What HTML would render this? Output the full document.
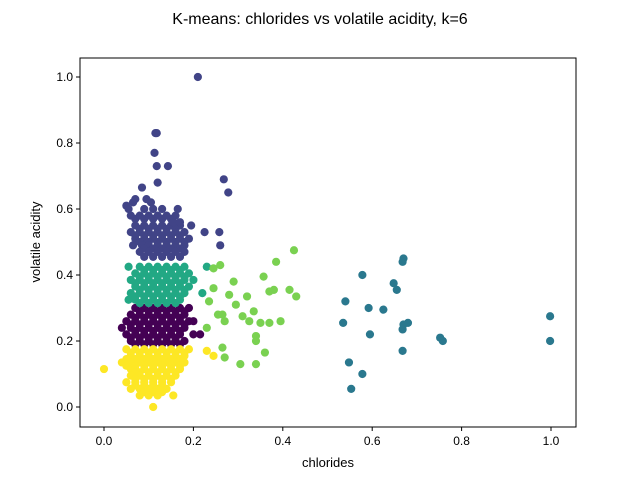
<!DOCTYPE html>
<html><head><meta charset="utf-8"><style>
body{margin:0;background:#fff;font-family:"Liberation Sans","DejaVu Sans",sans-serif}
</style></head><body>
<svg id="chart" width="640" height="480" xmlns="http://www.w3.org/2000/svg" style="display:block">
<rect width="640" height="480" fill="#fff"/>
<text x="320" y="24" text-anchor="middle" font-size="16" fill="#000">K-means: chlorides vs volatile acidity, k=6</text>
<g id="marks"></g>
<g id="axes"></g>
<text x="328" y="467" text-anchor="middle" font-size="13">chlorides</text>
<text transform="translate(40,242) rotate(-90)" text-anchor="middle" font-size="13">volatile acidity</text>
</svg>
<script>
const xTicks=[0,0.2,0.4,0.6,0.8,1.0];
const xTickLabels=["0.0","0.2","0.4","0.6","0.8","1.0"];
const yTicks=[0,0.2,0.4,0.6,0.8,1.0];
const yTickLabels=["0.0","0.2","0.4","0.6","0.8","1.0"];
const clusterColors=["#fde725","#440154","#22a884","#414487","#7ad151","#2a788e"];
const yellowRows=[[0.175,[0.05,0.07,0.09,0.11,0.13,0.15,0.17,0.19]],[0.165,[0.06,0.08,0.1,0.12,0.14,0.16,0.18]],[0.155,[0.06,0.08,0.1,0.12,0.14,0.16,0.18,0.245]],[0.145,[0.05,0.07,0.09,0.11,0.13,0.15,0.17]],[0.135,[0.04,0.06,0.08,0.1,0.12,0.14,0.16,0.18]],[0.125,[0.05,0.07,0.09,0.11,0.13,0.15,0.17]],[0.115,[0.0,0.06,0.07,0.09,0.11,0.13,0.15,0.17]],[0.105,[0.07,0.08,0.1,0.12,0.14,0.16]],[0.095,[0.06,0.08,0.1,0.12,0.14,0.16]],[0.085,[0.07,0.09,0.11,0.13,0.15]],[0.075,[0.05,0.07,0.09,0.11,0.13,0.15]],[0.065,[0.07,0.09,0.11,0.13]],[0.055,[0.06,0.08,0.1,0.12,0.14]],[0.045,[0.09,0.11,0.13]],[0.035,[0.08,0.1,0.12,0.155]],[0.0,[0.11]],[0.17,[0.23]]];
const purpleRows=[[0.3,[0.07,0.09,0.11,0.13,0.15,0.17,0.19]],[0.29,[0.08,0.1,0.12,0.14,0.16,0.18]],[0.28,[0.06,0.08,0.1,0.12,0.14,0.16,0.18]],[0.27,[0.07,0.09,0.11,0.13,0.15,0.17]],[0.26,[0.05,0.07,0.09,0.11,0.13,0.15,0.17,0.19,0.2]],[0.25,[0.06,0.08,0.1,0.12,0.14,0.16,0.18]],[0.24,[0.04,0.06,0.08,0.1,0.12,0.14,0.16,0.18]],[0.23,[0.07,0.09,0.11,0.13,0.15,0.17]],[0.22,[0.05,0.07,0.09,0.11,0.13,0.15,0.17,0.2,0.215]],[0.21,[0.06,0.08,0.1,0.12,0.14,0.16]],[0.2,[0.06,0.08,0.1,0.12,0.14,0.16,0.18]],[0.19,[0.07,0.09,0.11,0.13,0.15,0.17]]];
const greenRows=[[0.425,[0.055,0.08,0.1,0.12,0.14,0.16,0.18,0.23]],[0.415,[0.09,0.11,0.13,0.15,0.17]],[0.405,[0.07,0.09,0.11,0.13,0.15,0.17,0.19]],[0.395,[0.08,0.1,0.12,0.14,0.16,0.18]],[0.385,[0.06,0.08,0.1,0.12,0.14,0.16,0.18,0.2]],[0.375,[0.07,0.09,0.11,0.13,0.15,0.17]],[0.365,[0.07,0.09,0.11,0.13,0.15,0.17,0.19]],[0.355,[0.08,0.1,0.12,0.14,0.16,0.18]],[0.345,[0.06,0.08,0.1,0.12,0.14,0.16,0.18,0.22]],[0.335,[0.07,0.09,0.11,0.13,0.15,0.17]],[0.325,[0.055,0.07,0.09,0.11,0.13,0.15,0.17]],[0.315,[0.08,0.1,0.12,0.14,0.16]]];
const blueRows=[[0.55,[0.07,0.09,0.11,0.13,0.15,0.17,0.195]],[0.54,[0.08,0.1,0.12,0.14,0.16]],[0.53,[0.06,0.08,0.1,0.12,0.14,0.16,0.18,0.225,0.258]],[0.52,[0.07,0.09,0.11,0.13,0.15,0.17]],[0.51,[0.07,0.09,0.11,0.13,0.15,0.17,0.19]],[0.5,[0.08,0.1,0.12,0.14,0.16,0.18]],[0.49,[0.065,0.085,0.1,0.12,0.14,0.16,0.18,0.26]],[0.48,[0.09,0.11,0.13,0.15,0.17]],[0.47,[0.08,0.1,0.12,0.14,0.16,0.18]],[0.455,[0.09,0.11,0.13,0.15,0.17]],[0.57,[0.07,0.09,0.11,0.13,0.15]],[0.58,[0.06,0.08,0.1,0.12,0.14,0.16]],[0.6,[0.055,0.09,0.11,0.13,0.165]],[0.62,[0.065,0.105]],[0.63,[0.07,0.095]],[0.61,[0.05]],[0.665,[0.085]],[0.68,[0.12]],[0.73,[0.118,0.143]],[0.77,[0.113]],[0.83,[0.115,0.118]],[0.69,[0.268]],[0.65,[0.278]],[1.0,[0.21]],[0.56,[0.155,0.17]]];
const lightGreenX=[0.23,0.235,0.245,0.255,0.26,0.265,0.265,0.27,0.27,0.28,0.29,0.295,0.305,0.31,0.32,0.325,0.335,0.34,0.34,0.34,0.35,0.357,0.36,0.37,0.37,0.38,0.385,0.395,0.415,0.425,0.43,0.245];
const lightGreenY=[0.24,0.32,0.36,0.28,0.43,0.18,0.28,0.26,0.15,0.34,0.38,0.31,0.13,0.275,0.335,0.26,0.29,0.2,0.215,0.13,0.255,0.395,0.165,0.35,0.255,0.355,0.44,0.26,0.355,0.475,0.335,0.42];
const tealX=[0.535,0.54,0.548,0.553,0.578,0.578,0.592,0.595,0.625,0.648,0.655,0.668,0.67,0.668,0.67,0.68,0.668,0.752,0.758,0.998,0.998];
const tealY=[0.255,0.32,0.135,0.055,0.4,0.1,0.3,0.22,0.295,0.375,0.355,0.44,0.45,0.235,0.25,0.255,0.17,0.21,0.2,0.275,0.2];

const L=80,R=576,T=58,B=427;
const sx=v=>104+v*447, sy=v=>407-v*330;
const NS="http://www.w3.org/2000/svg";
const marks=document.getElementById('marks');
function dot(x,y,c,name){
  const e=document.createElementNS(NS,'circle');
  e.setAttribute('cx',sx(x));e.setAttribute('cy',sy(y));e.setAttribute('r',4.1);e.setAttribute('fill',c);
  
  
  marks.appendChild(e);
}
function rows(rs,c,name){rs.forEach(r=>r[1].forEach(x=>dot(x,r[0],c,name)));}
rows(purpleRows,clusterColors[1],'point-cluster-0');
rows(blueRows,clusterColors[3],'point-cluster-1');
tealX.forEach((x,i)=>dot(x,tealY[i],clusterColors[5],'point-cluster-2'));
rows(greenRows,clusterColors[2],'point-cluster-3');
lightGreenX.forEach((x,i)=>dot(x,lightGreenY[i],clusterColors[4],'point-cluster-4'));
rows(yellowRows,clusterColors[0],'point-cluster-5');

const ax=document.getElementById('axes');
const fr=document.createElementNS(NS,'rect');
fr.setAttribute('x',L);fr.setAttribute('y',T);fr.setAttribute('width',R-L);fr.setAttribute('height',B-T);
fr.setAttribute('fill','none');fr.setAttribute('stroke','#000');fr.setAttribute('stroke-width','1');


ax.appendChild(fr);
xTicks.forEach((v,i)=>{
  const l=document.createElementNS(NS,'line');
  l.setAttribute('x1',sx(v));l.setAttribute('x2',sx(v));l.setAttribute('y1',B);l.setAttribute('y2',B+4);l.setAttribute('stroke','#000');
  
  
  ax.appendChild(l);
  const t=document.createElementNS(NS,'text');
  t.setAttribute('x',sx(v));t.setAttribute('y',B+18);t.setAttribute('text-anchor','middle');t.setAttribute('font-size','12');
  t.textContent=xTickLabels[i];
  
  
  ax.appendChild(t);
});
yTicks.forEach((v,i)=>{
  const l=document.createElementNS(NS,'line');
  l.setAttribute('x1',L-4);l.setAttribute('x2',L);l.setAttribute('y1',sy(v));l.setAttribute('y2',sy(v));l.setAttribute('stroke','#000');
  
  
  ax.appendChild(l);
  const t=document.createElementNS(NS,'text');
  t.setAttribute('x',L-7);t.setAttribute('y',sy(v)+4);t.setAttribute('text-anchor','end');t.setAttribute('font-size','12');
  t.textContent=yTickLabels[i];
  
  
  ax.appendChild(t);
});
</script>
</body></html>
